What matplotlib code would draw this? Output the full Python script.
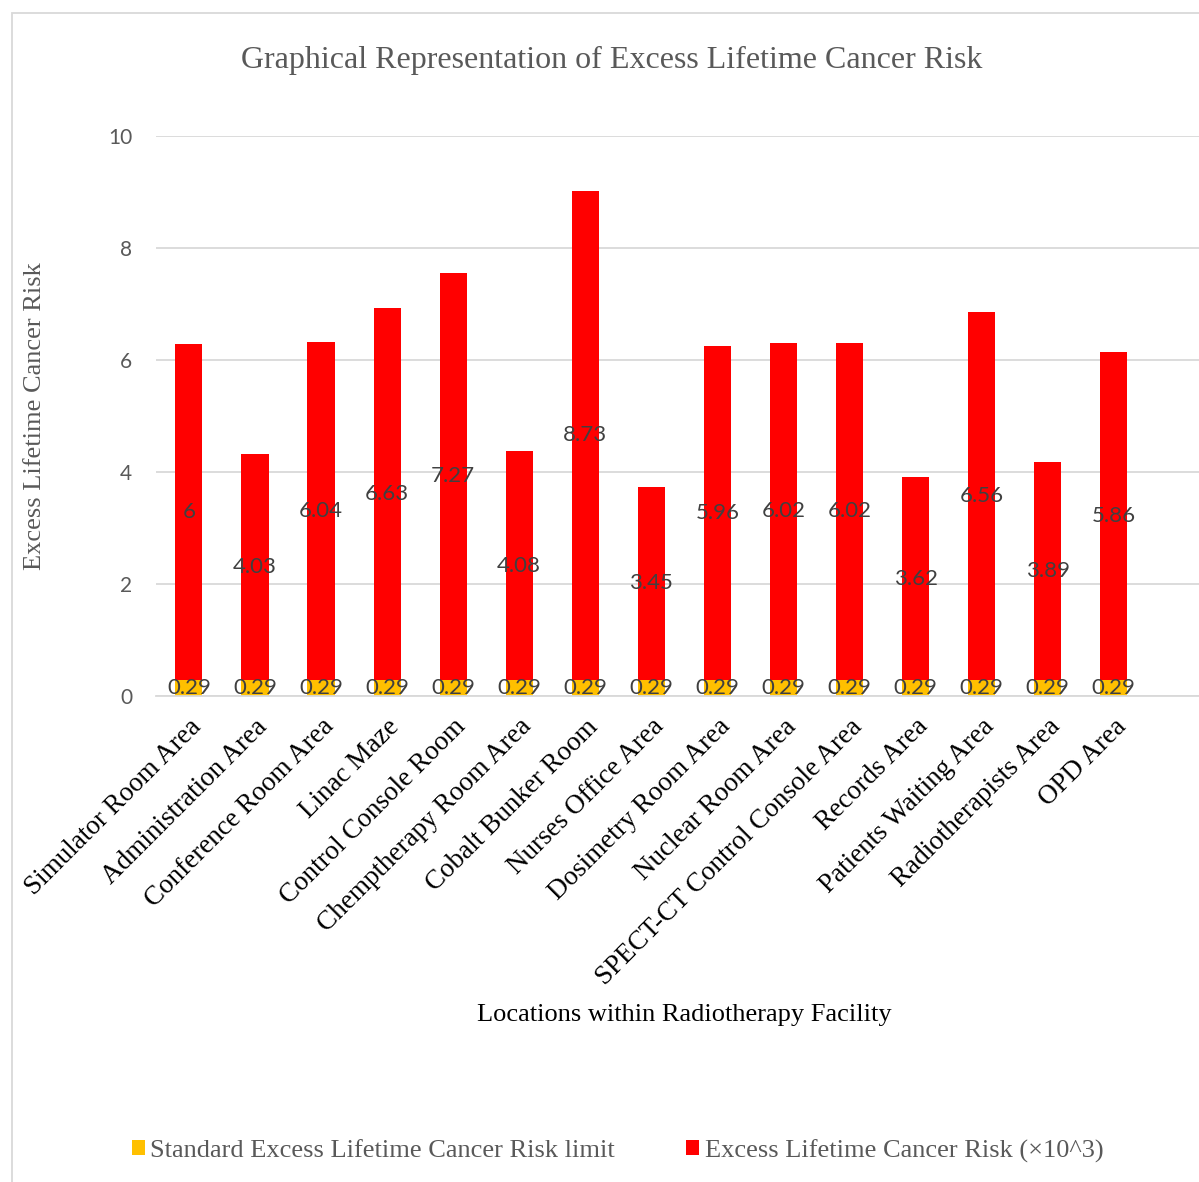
import numpy as np
import matplotlib
matplotlib.use("Agg")
import matplotlib.pyplot as plt
from matplotlib.patches import Rectangle

locations = [
    "Simulator Room Area", "Administration Area", "Conference Room Area",
    "Linac Maze", "Control Console Room", "Chemptherapy Room Area",
    "Cobalt Bunker Room", "Nurses Office Area", "Dosimetry Room Area",
    "Nuclear Room Area", "SPECT-CT Control Console Area", "Records Area",
    "Patients Waiting Area", "Radiotherapists Area", "OPD Area",
]
standard_limit = [0.29] * 15
elcr = [6, 4.03, 6.04, 6.63, 7.27, 4.08, 8.73, 3.45, 5.96, 6.02, 6.02,
        3.62, 6.56, 3.89, 5.86]

YELLOW = "#FFC000"
RED = "#FF0000"
SERIF = "Liberation Serif"
SANS = "Lato"

fig = plt.figure(figsize=(11.99, 11.82), dpi=100)
ax = fig.add_axes([0.130, 0.411, 0.870, 0.474])

x = np.arange(len(locations))
width = 0.41
b1 = ax.bar(x, standard_limit, width, color=YELLOW,
            label="Standard Excess Lifetime Cancer Risk limit")
b2 = ax.bar(x, elcr, width, bottom=standard_limit, color=RED,
            label="Excess Lifetime Cancer Risk (\u00d710^3)")

for rect, v in zip(b1, standard_limit):
    ax.text(rect.get_x() + rect.get_width() / 2, v / 2, f"{v:g}",
            ha="center", va="center", fontsize=16, color="#404040",
            family=SANS)
for rect, base, v in zip(b2, standard_limit, elcr):
    ax.text(rect.get_x() + rect.get_width() / 2, base + v / 2, f"{v:g}",
            ha="center", va="center", fontsize=16, color="#404040",
            family=SANS)

ax.set_ylim(0, 10)
ax.set_xlim(-0.5, 15.29)
ax.set_yticks([0, 2, 4, 6, 8, 10])
ax.yaxis.grid(True, color="#D9D9D9", linewidth=1.3)
ax.set_axisbelow(True)
for s in ["top", "right", "left"]:
    ax.spines[s].set_visible(False)
ax.spines["bottom"].set_color("#D9D9D9")
ax.spines["bottom"].set_linewidth(1.3)
ax.tick_params(axis="y", length=0, pad=17, labelsize=15, labelcolor="#595959")
ax.tick_params(axis="x", length=0, pad=13)
for lab in ax.get_yticklabels():
    lab.set_family(SANS)

ax.set_xticks(x)
ax.set_xticklabels(locations, rotation=45, ha="right", va="top",
                   rotation_mode="anchor", fontsize=19.5, family=SERIF,
                   color="black")

ax.set_ylabel("Excess Lifetime Cancer Risk", fontsize=19, family=SERIF,
              color="#595959")
ax.yaxis.set_label_coords(-0.105, 0.5)
fig.text(0.571, 1 - 1015 / 1182, "Locations within Radiotherapy Facility",
         ha="center", va="center", fontsize=19, family=SERIF, color="black")

fig.text(0.510, 1 - 60 / 1182,
         "Graphical Representation of Excess Lifetime Cancer Risk",
         ha="center", va="center", fontsize=23, family=SERIF,
         color="#595959")

leg = fig.legend(loc="center", bbox_to_anchor=(0.515, 1 - 1151 / 1182),
                 ncol=2, frameon=False, handlelength=0.5, handleheight=0.5,
                 handletextpad=0.2, columnspacing=2.7,
                 prop={"family": SERIF, "size": 19})
for t in leg.get_texts():
    t.set_color("#595959")

# chart area border
fig.patches.append(Rectangle((12 / 1199, -0.01), 1.1, 1 - 13 / 1182 + 0.01,
                             transform=fig.transFigure, fill=False,
                             edgecolor="#D9D9D9", linewidth=1.3))

fig.savefig("out.png", dpi=100)
